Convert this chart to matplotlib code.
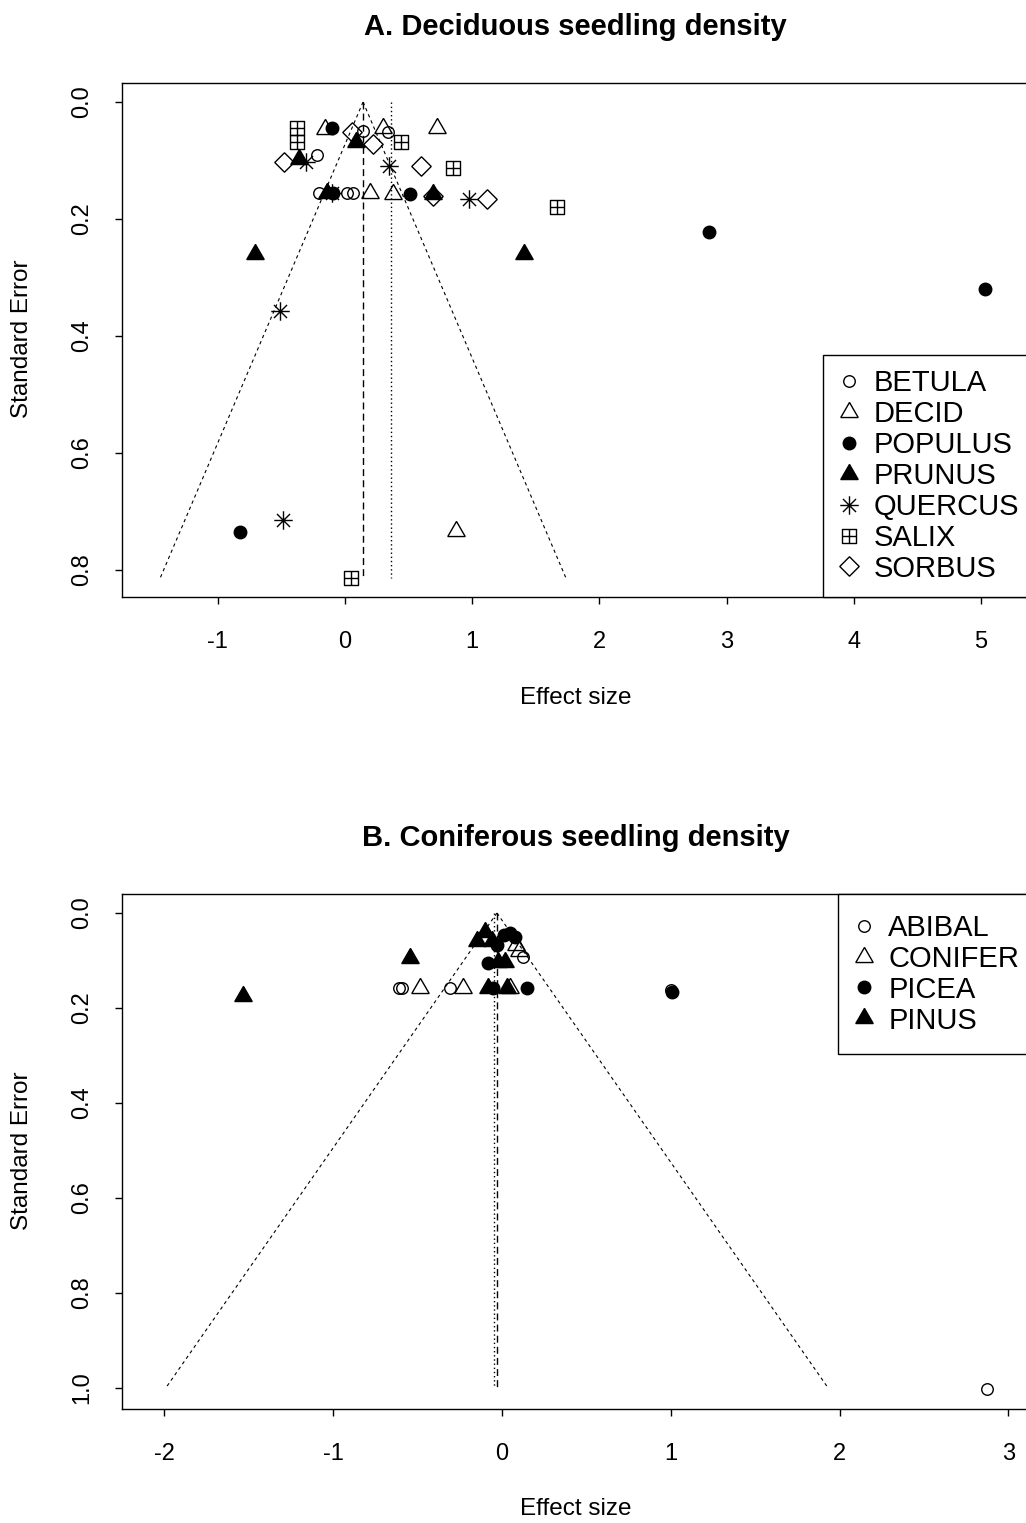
import numpy as np
import matplotlib
matplotlib.use("Agg")
from matplotlib import pyplot as plt
from matplotlib.path import Path
from matplotlib.lines import Line2D

plt.rcParams['font.family'] = ['Liberation Sans', 'DejaVu Sans']
plt.rcParams['axes.unicode_minus'] = False

# ---- panel A: deciduous seedling density (effect size, standard error) ----
dec_groups = ["BETULA", "DECID", "POPULUS", "PRUNUS", "QUERCUS", "SALIX", "SORBUS"]
betula_x = [0.144, 0.335, -0.223, -0.202, 0.013, 0.065, -0.10]
betula_se = [0.050, 0.051, 0.091, 0.156, 0.156, 0.156, 0.156]
decid_x = [-0.157, 0.30, 0.72, 0.197, 0.38, 0.873]
decid_se = [0.047, 0.045, 0.045, 0.156, 0.158, 0.733]
populus_x = [-0.105, -0.092, 0.511, 2.862, 5.031, -0.825]
populus_se = [0.045, 0.156, 0.158, 0.222, 0.320, 0.735]
prunus_x = [0.084, -0.359, -0.139, 0.69, -0.708, 1.407]
prunus_se = [0.068, 0.098, 0.156, 0.158, 0.260, 0.260]
quercus_x = [-0.307, 0.346, -0.10, 0.977, -0.511, -0.487]
quercus_se = [0.102, 0.109, 0.156, 0.165, 0.357, 0.715]
salix_x = [-0.377, -0.377, 0.44, 0.852, 1.67, 0.047]
salix_se = [0.044, 0.069, 0.069, 0.113, 0.179, 0.814]
sorbus_x = [0.052, 0.218, -0.477, 0.597, 0.69, 1.119]
sorbus_se = [0.051, 0.071, 0.102, 0.109, 0.160, 0.166]
dec_fixed = 0.142   # dashed line, funnel centre
dec_random = 0.362  # dotted line
dec_se_max = 0.814

# ---- panel B: coniferous seedling density ----
con_groups = ["ABIBAL", "CONIFER", "PICEA", "PINUS"]
abibal_x = [0.126, -0.61, -0.595, -0.308, 1.0, 2.873]
abibal_se = [0.092, 0.159, 0.159, 0.159, 0.163, 1.003]
conifer_x = [0.08, 0.10, -0.486, -0.229, 0.047]
conifer_se = [0.067, 0.080, 0.158, 0.158, 0.158]
picea_x = [0.01, 0.045, 0.075, -0.03, -0.081, -0.052, 0.146, 1.007]
picea_se = [0.046, 0.043, 0.050, 0.068, 0.106, 0.158, 0.159, 0.166]
pinus_x = [-0.10, -0.15, -0.06, -0.545, -1.534, -0.022, 0.018, -0.08, 0.028]
pinus_se = [0.039, 0.060, 0.060, 0.095, 0.175, 0.103, 0.103, 0.158, 0.158]
con_fixed = -0.03
con_random = -0.05
con_se_max = 1.0

# R style symbols
star = Path([(-1, 0), (1, 0), (0, -1), (0, 1), (-.707, -.707), (.707, .707), (-.707, .707), (.707, -.707)],
            [Path.MOVETO, Path.LINETO] * 4)
boxplus = Path([(-1, -1), (1, -1), (1, 1), (-1, 1), (-1, -1), (-1, 0), (1, 0), (0, -1), (0, 1)],
               [Path.MOVETO, Path.LINETO, Path.LINETO, Path.LINETO, Path.CLOSEPOLY,
                Path.MOVETO, Path.LINETO, Path.MOVETO, Path.LINETO])
open_circle = dict(marker='o', ms=8.3, mfc='none')
open_tri = dict(marker=(3, 0, 0), ms=14.5, mfc='none')
full_circle = dict(marker='o', ms=9, mfc='black')
full_tri = dict(marker=(3, 0, 0), ms=14.5, mfc='black')

dec_style = [open_circle, open_tri, full_circle, full_tri,
             dict(marker=star, ms=13.3, mfc='none'),
             dict(marker=boxplus, ms=9.4, mfc='none'),
             dict(marker=(4, 0, 0), ms=14, mfc='none')]
con_style = [open_circle, open_tri, full_circle, full_tri]

dec_data = [(betula_x, betula_se), (decid_x, decid_se), (populus_x, populus_se), (prunus_x, prunus_se),
            (quercus_x, quercus_se), (salix_x, salix_se), (sorbus_x, sorbus_se)]
con_data = [(abibal_x, abibal_se), (conifer_x, conifer_se), (picea_x, picea_se), (pinus_x, pinus_se)]

W, H = 1026, 1523
fig = plt.figure(figsize=(W / 100, H / 100), dpi=100)


def px_axes(left, top, right, bottom):
    return fig.add_axes([left / W, 1 - bottom / H, (right - left) / W, (bottom - top) / H])


def funnel(ax, data, styles, groups, centre, other, se_max, xlim, ylim, xticks, yticks, leg_kw):
    se = np.array([0, se_max])
    ax.plot(centre - 1.96 * se, se, color='black', lw=0.8, ls=(0, (3, 3)))
    ax.plot(centre + 1.96 * se, se, color='black', lw=0.8, ls=(0, (3, 3)))
    ax.plot([centre, centre], se, color='black', lw=1, ls=(0, (5, 3)))
    ax.plot([other, other], se, color='black', lw=1, ls=(0, (1, 2)))
    handles = []
    for (x, s), st, g in zip(data, styles, groups):
        ax.plot(x, s, ls='none', mec='black', mew=1.0, **st)
        handles.append(Line2D([], [], ls='none', mec='black', mew=1.0, label=g, **st))
    ax.set_xlim(*xlim)
    ax.set_ylim(*ylim)
    ax.set_xticks(xticks)
    ax.set_xticklabels([str(t) for t in xticks])
    ax.set_yticks(yticks)
    ax.set_yticklabels([f"{t:.1f}" for t in yticks], rotation=90, va='center')
    ax.tick_params(direction='out', length=5, width=1, labelsize=17)
    ax.tick_params(axis='x', pad=19.5)
    ax.tick_params(axis='y', pad=15.5)
    for sp in ax.spines.values():
        sp.set_linewidth(1)
    leg = ax.legend(handles=handles, borderaxespad=0, fontsize=21, numpoints=1,
                    labelspacing=0.1, fancybox=False, framealpha=1, edgecolor='black', **leg_kw)
    leg.get_frame().set_linewidth(1)


# top panel
ax1 = px_axes(122, 83, 1029, 597)
funnel(ax1, dec_data, dec_style, dec_groups, dec_fixed, dec_random, dec_se_max,
       ((122 - 345) / 127.2, (1029 - 345) / 127.2), ((597 - 102) / 585, (83 - 102) / 585),
       [-1, 0, 1, 2, 3, 4, 5], [0.0, 0.2, 0.4, 0.6, 0.8],
       dict(loc='lower left', bbox_to_anchor=(0.773, 0.0), borderpad=0.49, handlelength=0.8, handletextpad=0.45))

# bottom panel
ax2 = px_axes(122, 894, 1029, 1409)
funnel(ax2, con_data, con_style, con_groups, con_fixed, con_random, con_se_max,
       ((122 - 502) / 168.8, (1029 - 502) / 168.8), ((1409 - 913) / 474.5, (894 - 913) / 474.5),
       [-2, -1, 0, 1, 2, 3], [0.0, 0.2, 0.4, 0.6, 0.8, 1.0],
       dict(loc='upper left', bbox_to_anchor=(0.789, 1.0), borderpad=0.68, handlelength=0.42, handletextpad=0.64))

cx = (122 + 1029) / 2 / W
fig.text(cx, 1 - 27 / H, "A. Deciduous seedling density", ha='center', va='center', fontsize=21, weight='bold')
fig.text(cx, 1 - 838 / H, "B. Coniferous seedling density", ha='center', va='center', fontsize=21, weight='bold')
fig.text(cx, 1 - 698 / H, "Effect size", ha='center', va='center', fontsize=17.5)
fig.text(cx, 1 - 1509 / H, "Effect size", ha='center', va='center', fontsize=17.5)
fig.text(22 / W, 1 - 339 / H, "Standard Error", ha='center', va='center', fontsize=17.5, rotation=90)
fig.text(22 / W, 1 - 1151 / H, "Standard Error", ha='center', va='center', fontsize=17.5, rotation=90)

fig.savefig("out.png", dpi=100)
